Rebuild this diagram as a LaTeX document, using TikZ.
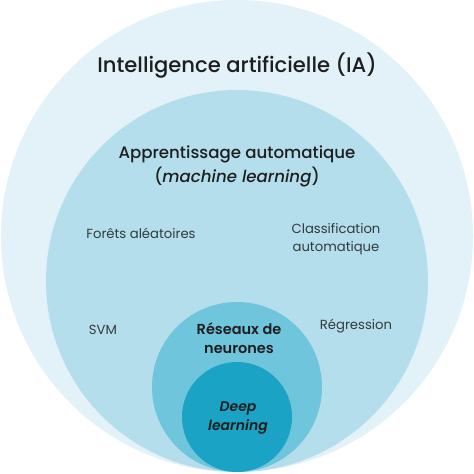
\documentclass[tikz,border=0pt]{standalone}
\usepackage{fontspec}
\setmainfont{Poppins}
\newfontfamily\medfont{Poppins Medium}[ItalicFont={Poppins Medium Italic}]
\newfontfamily\semifont{Poppins SemiBold}[ItalicFont={Poppins SemiBold Italic}]
\definecolor{cAI}{HTML}{E2F2F8}
\definecolor{cML}{HTML}{B5DEEC}
\definecolor{cNN}{HTML}{6EC5DC}
\definecolor{cDL}{HTML}{1BA3C6}
\definecolor{txt}{HTML}{1E1E1E}
\definecolor{txtl}{HTML}{333A3E}
\begin{document}
\begin{tikzpicture}[x=1pt,y=-1pt,
  zone/.style={circle,inner sep=0pt,outer sep=0pt},
  lab/.style={text=txtl,font=\fontsize{13.2}{18}\selectfont,align=center,inner sep=0pt},
  title/.style={text=txt,align=center,inner sep=0pt}]
\useasboundingbox (0,0) rectangle (474,474);
\fill[white] (0,0) rectangle (474,474);
\node[zone,fill=cAI,minimum size=472pt] (ai) at (237,236) {};
\node[zone,fill=cML,minimum size=382pt] (ml) at (237,281) {};
\node[zone,fill=cNN,minimum size=170pt] (nn) at (237,387) {};
\node[zone,fill=cDL,minimum size=110pt] (dl) at (237,417) {};
\node[title,font=\medfont\fontsize{21.1}{26}\selectfont] (tai) at (237,66) {Intelligence artificielle (IA)};
\node[title,font=\medfont\fontsize{16.6}{24}\selectfont] (tml) at (237,166) {Apprentissage automatique\\(\textit{machine learning})};
\node[lab] (rf) at (141,233) {Forêts aléatoires};
\node[lab] (cl) at (336,239) {Classification\\automatique};
\node[lab] (svm) at (103,330) {SVM};
\node[lab] (reg) at (356,326) {Régression};
\node[title,font=\semifont\fontsize{14.5}{19}\selectfont] (tnn) at (239,338) {Réseaux de\\neurones};
\node[title,font=\semifont\fontsize{14}{19}\selectfont\itshape] (tdl) at (238,418) {Deep\\learning};
\end{tikzpicture}
\end{document}
